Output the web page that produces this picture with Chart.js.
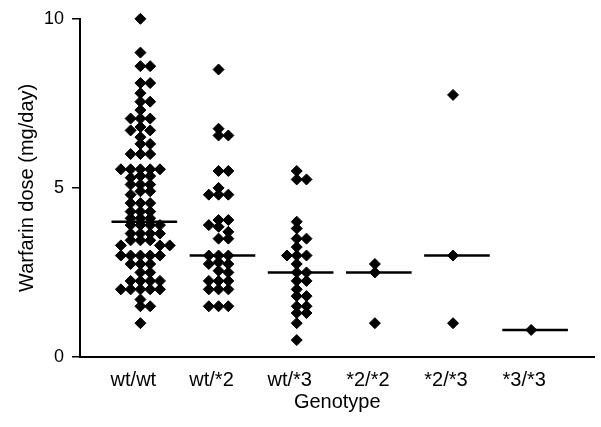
<!DOCTYPE html>
<html>
<head>
<meta charset="utf-8">
<script src="https://cdn.jsdelivr.net/npm/chart.js@4.4.1/dist/chart.umd.min.js"></script>
<style>
  html, body { margin: 0; padding: 0; background: #fff; }
  #wrap { width: 601px; height: 427px; }
</style>
</head>
<body>
<div id="wrap"><canvas id="chart"></canvas></div>
<script>
// genotype groups and individual daily doses (mg/day)
const genotypes = ['wt/wt', 'wt/*2', 'wt/*3', '*2/*2', '*2/*3', '*3/*3'];

const doseWtWt = [10.0, 9.0, 8.6, 8.6, 8.1, 8.1, 7.8, 7.55, 7.55, 7.3, 7.05, 7.05, 7.05,
  6.8, 6.7, 6.7, 6.5, 6.3, 6.3, 6.0, 6.0, 6.0, 5.55, 5.55, 5.55, 5.55, 5.55, 5.35, 5.35, 5.3,
  5.1, 5.1, 5.1, 4.9, 4.9, 4.8, 4.55, 4.55, 4.55, 4.3, 4.3, 4.3, 4.1, 4.1, 4.1,
  3.9, 3.9, 3.9, 3.9, 3.65, 3.65, 3.65, 3.65, 3.45, 3.45, 3.45, 3.3, 3.3, 3.3,
  3.0, 3.0, 3.0, 3.0, 3.0, 2.75, 2.75, 2.75, 2.5, 2.5, 2.25, 2.25, 2.25, 2.25,
  2.0, 2.0, 2.0, 2.0, 2.0, 1.7, 1.5, 1.5, 1.0];
const doseWt2 = [8.5, 6.75, 6.55, 6.55, 5.5, 5.5, 5.0, 4.8, 4.8, 4.8, 4.05, 4.05, 3.9, 3.85,
  3.7, 3.5, 3.5, 3.0, 3.0, 3.0, 2.8, 2.75, 2.75, 2.55, 2.5, 2.25, 2.25, 2.25, 2.0, 2.0, 2.0,
  1.5, 1.5, 1.5];
const doseWt3 = [5.5, 5.25, 5.25, 4.0, 3.8, 3.5, 3.5, 3.25, 3.0, 3.0, 3.0, 2.75, 2.5, 2.5,
  2.25, 2.25, 2.0, 1.8, 1.8, 1.5, 1.5, 1.3, 1.3, 1.0, 0.5];
const dose22 = [2.75, 2.5, 1.0];
const dose23 = [7.75, 3.0, 1.0];
const dose33 = [0.8];

const groupDoses = [doseWtWt, doseWt2, doseWt3, dose22, dose23, dose33];
const medians = [4.0, 3.0, 2.5, 2.5, 3.0, 0.8];
const yTicks = [0, 5, 10];

// spread equal-ish doses sideways; diamonds may overlap a little like in a dot plot
function swarm(values, center) {
  const pxX = 79, pxY = 34.3, step = 0.125, minGap = 6.5;
  const placed = [];
  values.slice().sort((a, b) => b - a).forEach(v => {
    for (let k = 0; k < 20; k++) {
      const off = (k % 2 === 1 ? 1 : -1) * Math.ceil(k / 2) * step;
      const x = center - 0.05 + off;
      const hit = placed.some(p => Math.abs(p.x - x) * pxX + Math.abs(p.y - v) * pxY < minGap);
      if (!hit) { placed.push({ x: x, y: v }); break; }
    }
  });
  return placed;
}

const dots = [];
groupDoses.forEach((vals, i) => dots.push(...swarm(vals, i)));

// short horizontal bars at each group's median
const medianLine = [];
medians.forEach((m, i) => {
  medianLine.push({ x: i - 0.42, y: m }, { x: i + 0.42, y: m }, { x: i + 0.5, y: null });
});

const font = 'Liberation Sans, Arial, Helvetica, sans-serif';

new Chart(document.getElementById('chart').getContext('2d'), {
  data: {
    datasets: [
      {
        type: 'scatter',
        data: dots,
        pointStyle: 'rectRot',
        pointRadius: 5.5,
        backgroundColor: '#000',
        borderColor: '#000',
        borderWidth: 1,
        clip: false,
      },
      {
        type: 'line',
        data: medianLine,
        borderColor: '#000',
        borderWidth: 2.5,
        pointRadius: 0,
        spanGaps: false,
      },
    ],
  },
  options: {
    responsive: true,
    maintainAspectRatio: false,
    animation: false,
    devicePixelRatio: 1,
    layout: { padding: { top: 14, right: 1, left: 0, bottom: 0 } },
    scales: {
      x: {
        type: 'linear',
        min: -0.823,
        max: 5.76,
        afterBuildTicks: axis => { axis.ticks = genotypes.map((_, i) => ({ value: i - 0.14 })); },
        afterFit: scale => { scale.height = 70; },
        ticks: {
          color: '#000',
          font: { family: font, size: 20 },
          padding: 11,
          maxRotation: 0,
          autoSkip: false,
          callback: (v, i) => genotypes[i],
        },
        grid: { display: false, drawTicks: false },
        border: { display: true, color: '#000', width: 2 },
        title: {
          display: true,
          text: 'Genotype',
          color: '#000',
          font: { family: font, size: 20 },
          padding: { top: 0, bottom: 13 },
        },
      },
      y: {
        min: 0,
        max: 10,
        afterBuildTicks: axis => { axis.ticks = yTicks.map(v => ({ value: v })); },
        afterFit: scale => { scale.width = 80; },
        ticks: {
          color: '#000',
          font: { family: font, size: 18 },
          padding: 8,
        },
        grid: { drawOnChartArea: false, drawTicks: true, tickLength: 8, color: '#000', lineWidth: 1.5 },
        border: { display: true, color: '#000', width: 2 },
        title: {
          display: true,
          text: 'Warfarin dose (mg/day)',
          color: '#000',
          font: { family: font, size: 20 },
          padding: { top: 15, bottom: 0 },
        },
      },
    },
    plugins: {
      legend: { display: false },
      tooltip: { enabled: false },
    },
  },
});
</script>
</body>
</html>
